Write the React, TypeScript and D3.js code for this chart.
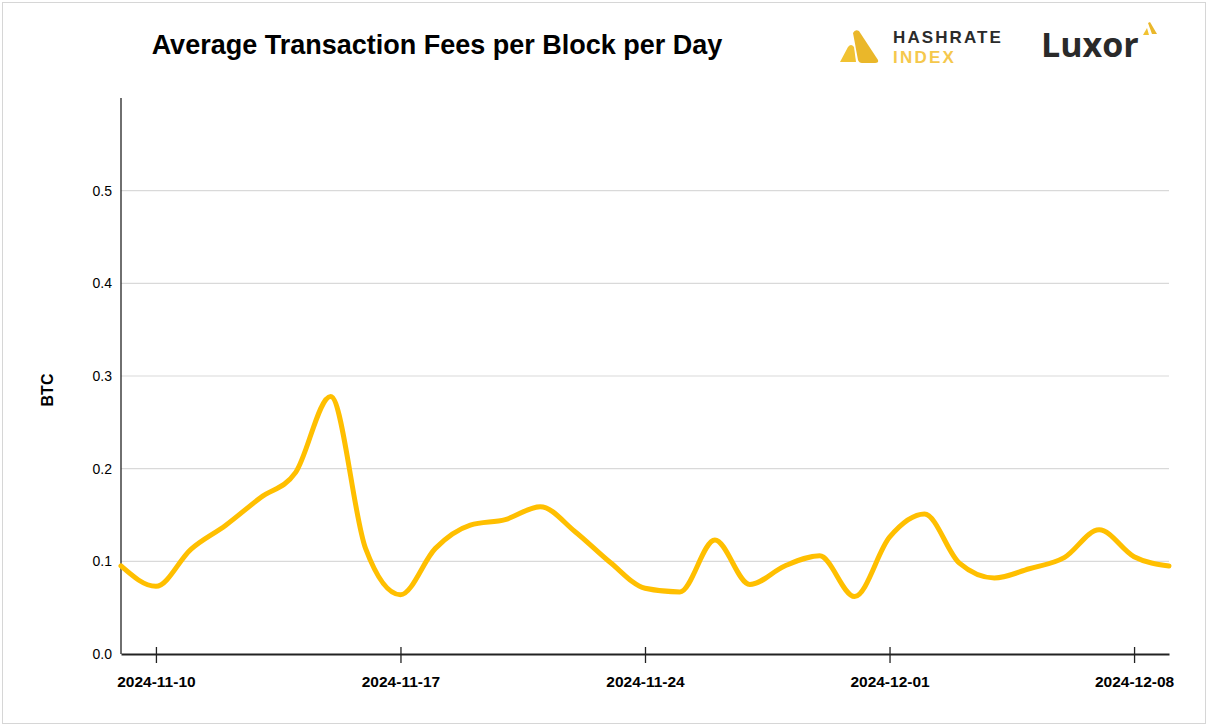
import React, { useEffect, useRef } from 'react';
import * as d3 from 'd3';

// daily values, 2024-11-09 .. 2024-12-09
const dates = [
  '2024-11-09', '2024-11-10', '2024-11-11', '2024-11-12', '2024-11-13', '2024-11-14', '2024-11-15',
  '2024-11-16', '2024-11-17', '2024-11-18', '2024-11-19', '2024-11-20', '2024-11-21', '2024-11-22',
  '2024-11-23', '2024-11-24', '2024-11-25', '2024-11-26', '2024-11-27', '2024-11-28', '2024-11-29',
  '2024-11-30', '2024-12-01', '2024-12-02', '2024-12-03', '2024-12-04', '2024-12-05', '2024-12-06',
  '2024-12-07', '2024-12-08', '2024-12-09',
];
const fees = [
  0.095, 0.073, 0.113, 0.139, 0.169, 0.196, 0.278, 0.114, 0.064, 0.114, 0.139, 0.145, 0.159, 0.132,
  0.099, 0.071, 0.067, 0.123, 0.075, 0.095, 0.106, 0.062, 0.126, 0.151, 0.098, 0.082, 0.092, 0.104,
  0.134, 0.105, 0.095,
];
const xTickDates = ['2024-11-10', '2024-11-17', '2024-11-24', '2024-12-01', '2024-12-08'];
const yTicks = [0, 0.1, 0.2, 0.3, 0.4, 0.5];

const App: React.FC = () => {
  const ref = useRef<SVGSVGElement>(null);

  useEffect(() => {
    const svg = d3.select(ref.current);
    svg.selectAll('*').remove();

    const parse = d3.timeParse('%Y-%m-%d');
    const data = dates.map((d, i) => ({ date: parse(d) as Date, value: fees[i] }));

    const x = d3.scaleTime()
      .domain([parse(dates[0]) as Date, parse(dates[dates.length - 1]) as Date])
      .range([121, 1169]);
    const y = d3.scaleLinear().domain([0, 0.6]).range([654, 98]);

    // frame
    svg.append('rect')
      .attr('x', 2.5).attr('y', 2.5).attr('width', 1203).attr('height', 721)
      .attr('fill', '#fff').attr('stroke', '#d6d6d6');

    // title
    svg.append('text')
      .attr('x', 437).attr('y', 54)
      .attr('text-anchor', 'middle')
      .style('font', 'bold 27px "Liberation Sans", Arial, sans-serif')
      .attr('fill', '#000')
      .text('Average Transaction Fees per Block per Day');

    // gridlines
    svg.append('g').selectAll('line')
      .data(yTicks.filter(t => t > 0))
      .enter().append('line')
      .attr('x1', 121).attr('x2', 1169)
      .attr('y1', d => y(d)).attr('y2', d => y(d))
      .attr('stroke', '#d9d9d9').attr('stroke-width', 1.2);

    // y axis
    const yAxis = svg.append('g')
      .attr('transform', 'translate(121,0)')
      .call(d3.axisLeft(y).tickValues(yTicks).tickFormat(d3.format('.1f')).tickSize(0).tickPadding(9));
    yAxis.select('.domain').remove();
    yAxis.selectAll('text')
      .style('font', '14px "Liberation Sans", Arial, sans-serif')
      .attr('fill', '#000');
    svg.append('line')
      .attr('x1', 121).attr('x2', 121).attr('y1', 98).attr('y2', 654)
      .attr('stroke', '#222').attr('stroke-width', 1.3);

    // x axis
    const xAxis = svg.append('g')
      .attr('transform', 'translate(0,654)')
      .call(d3.axisBottom(x)
        .tickValues(xTickDates.map(d => parse(d) as Date))
        .tickFormat(d3.timeFormat('%Y-%m-%d') as any)
        .tickSizeInner(8).tickSizeOuter(0).tickPadding(14));
    xAxis.select('.domain').attr('stroke', '#222').attr('stroke-width', 2);
    xAxis.selectAll('.tick line')
      .attr('y1', -7).attr('y2', 9).attr('stroke', '#222').attr('stroke-width', 1.3);
    xAxis.selectAll('text')
      .style('font', 'bold 15.5px "Liberation Sans Narrow", "Arial Narrow", sans-serif')
      .style('font-stretch', 'condensed')
      .attr('fill', '#000');

    // y label
    svg.append('text')
      .attr('transform', 'translate(53,390) rotate(-90)')
      .attr('text-anchor', 'middle')
      .style('font', 'bold 16px "Liberation Sans", Arial, sans-serif')
      .text('BTC');

    // line
    const line = d3.line<{ date: Date; value: number }>()
      .x(d => x(d.date))
      .y(d => y(d.value))
      .curve(d3.curveMonotoneX);
    svg.append('path')
      .datum(data)
      .attr('d', line)
      .attr('fill', 'none')
      .attr('stroke', '#ffbf00')
      .attr('stroke-width', 5)
      .attr('stroke-linejoin', 'round')
      .attr('stroke-linecap', 'round');

    // Hashrate Index logo
    const logo = svg.append('g');
    logo.append('path')
      .attr('d', 'M840,62 L848,47 Q851,43 854,47 L856,62 Z')
      .attr('fill', '#f1c232');
    logo.append('path')
      .attr('d', 'M853,33 Q855,29 859,31 L878,60 Q879,63 875,63 L862,63 Q859,63 858,60 Z')
      .attr('fill', '#eab72a');
    logo.append('text')
      .attr('x', 893).attr('y', 43)
      .style('font', 'bold 17px "Liberation Sans", Arial, sans-serif')
      .style('letter-spacing', '2.1px')
      .attr('fill', '#2b2b2b')
      .text('HASHRATE');
    logo.append('text')
      .attr('x', 893).attr('y', 63)
      .style('font', 'bold 17px "Liberation Sans", Arial, sans-serif')
      .style('letter-spacing', '2.2px')
      .attr('fill', '#f5c84c')
      .text('INDEX');

    // Luxor logo
    svg.append('text')
      .attr('x', 1041).attr('y', 57)
      .style('font', 'bold 34px "Open Sans", "Liberation Sans", sans-serif')
      .attr('fill', '#2a2a2a')
      .text('Luxor');
    svg.append('path')
      .attr('d', 'M1143,35 L1147,28 L1149,35 Z')
      .attr('fill', '#f1c232');
    svg.append('path')
      .attr('d', 'M1148,23 L1150,22 L1157,34 L1152,34 Z')
      .attr('fill', '#eab72a');
  }, []);

  return (
    <svg
      ref={ref}
      width={1208}
      height={726}
      style={{ position: 'absolute', left: 0, top: 0, background: '#fff' }}
    />
  );
};

export default App;
